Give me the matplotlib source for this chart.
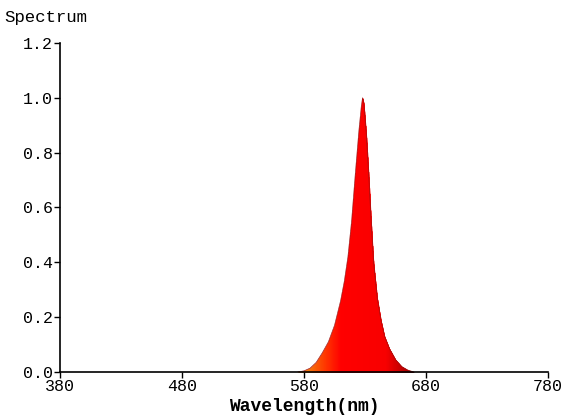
import matplotlib
matplotlib.use('Agg')
import matplotlib.pyplot as plt
import numpy as np
from matplotlib.colors import LinearSegmentedColormap

# spectrum
wavelength = [575, 580, 585, 590, 595, 600, 605, 610, 613, 616, 619, 622, 625,
              627, 628, 629, 631, 633, 635, 637, 640, 643, 646, 650, 655, 660,
              665, 670]
intensity = [0.0, 0.004, 0.014, 0.035, 0.07, 0.11, 0.17, 0.26, 0.33, 0.42, 0.55,
             0.72, 0.88, 0.97, 1.0, 0.98, 0.87, 0.72, 0.55, 0.40, 0.27, 0.19,
             0.13, 0.085, 0.045, 0.02, 0.007, 0.0]

x_ticks = [380, 480, 580, 680, 780]
y_ticks = [0.0, 0.2, 0.4, 0.6, 0.8, 1.0, 1.2]

mono = 'Liberation Mono'

fig = plt.figure(figsize=(5.62, 4.17), dpi=100)
ax = fig.add_axes([0.107, 0.108, 0.868, 0.789])

# colour each thin slice by its wavelength
cmap = LinearSegmentedColormap.from_list(
    'spec', [(0.0, '#f09010'), (0.2, '#ff3a00'), (0.35, '#ff0000'),
             (0.75, '#f80000'), (0.88, '#c80000'), (1.0, '#900000')])
wl = np.array(wavelength, dtype=float)
val = np.array(intensity)
fine = np.linspace(wl.min(), wl.max(), 400)
fine_val = np.interp(fine, wl, val)
for i in range(len(fine) - 1):
    c = cmap((fine[i] - 578) / (670 - 578))
    ax.fill_between(fine[i:i + 2], 0, fine_val[i:i + 2], color=c, lw=0.3,
                    edgecolor=c)
ax.plot(wl, val, color='#a01010', lw=0.5)

ax.set_xlim(380, 780)
ax.set_ylim(0, 1.2)
ax.set_xticks(x_ticks)
ax.set_yticks(y_ticks)
ax.set_xticklabels([str(t) for t in x_ticks], family=mono, fontsize=12)
ax.set_yticklabels([f'{t:.1f}' for t in y_ticks], family=mono, fontsize=12)
ax.tick_params(direction='out', length=4, width=1, pad=1)

for s in ['top', 'right']:
    ax.spines[s].set_visible(False)
for s in ['left', 'bottom']:
    ax.spines[s].set_linewidth(1.2)

ax.set_xlabel('Wavelength(nm)', family=mono, fontsize=13, fontweight='bold',
              labelpad=3)
fig.text(0.008, 0.957, 'Spectrum', family=mono, fontsize=12.5, va='center')

plt.savefig('out.png', dpi=100)
